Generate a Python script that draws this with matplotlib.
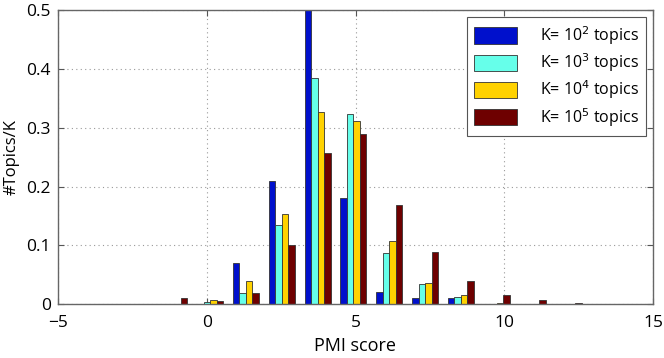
import matplotlib
matplotlib.use('Agg')
import matplotlib.pyplot as plt
import numpy as np

plt.rcParams['font.family'] = ['Open Sans', 'DejaVu Sans']

# bin centres of the PMI histogram
centers = [-1.1, 0.11, 1.315, 2.52, 3.725, 4.93, 6.135, 7.34, 8.545, 9.75, 10.955, 12.16, 13.365]

k2 = [0.0, 0.001, 0.070, 0.210, 0.510, 0.181, 0.021, 0.011, 0.010, 0.0, 0.0, 0.0, 0.0]
k3 = [0.001, 0.004, 0.020, 0.134, 0.385, 0.324, 0.088, 0.035, 0.012, 0.0, 0.0, 0.0, 0.0]
k4 = [0.001, 0.007, 0.040, 0.153, 0.327, 0.311, 0.108, 0.037, 0.015, 0.003, 0.001, 0.0, 0.0]
k5 = [0.010, 0.006, 0.020, 0.100, 0.257, 0.290, 0.168, 0.089, 0.039, 0.016, 0.007, 0.003, 0.001]

series = [k2, k3, k4, k5]
labels = ['K= 10$^2$ topics', 'K= 10$^3$ topics', 'K= 10$^4$ topics', 'K= 10$^5$ topics']
colors = ['#0010CC', '#66FFEA', '#FFD200', '#6E0000']

fig = plt.figure(figsize=(6.64, 3.58), dpi=100)
ax = fig.add_axes([58 / 664, 1 - 304.3 / 358, (653 - 58) / 664, (304.3 - 10) / 358])

x = np.array(centers)
w = 0.219
for i, (vals, lab, col) in enumerate(zip(series, labels, colors)):
    ax.bar(x + (i - 1.5) * w, vals, width=w, color=col, edgecolor='#333333',
           linewidth=0.6, label=lab)

ax.set_xlim(-5, 15)
ax.set_ylim(0, 0.5)
ax.set_xticks([-5, 0, 5, 10, 15])
ax.set_xticklabels(['\u22125', '0', '5', '10', '15'])
ax.set_yticks([0, 0.1, 0.2, 0.3, 0.4, 0.5])
ax.set_yticklabels(['0', '0.1', '0.2', '0.3', '0.4', '0.5'])
ax.tick_params(direction='in', top=True, right=True, length=4, labelsize=12.5,
               color='#555555')
ax.tick_params(axis='x', pad=8)
ax.tick_params(axis='y', pad=5)
ax.grid(True, linestyle=(0, (1, 3)), color='#999999', linewidth=0.8)
ax.set_axisbelow(True)
for s in ax.spines.values():
    s.set_color('#666666')
    s.set_linewidth(1.0)

ax.set_xlabel('PMI score', fontsize=13, labelpad=4)
ax.set_ylabel('#Topics/K', fontsize=12, labelpad=5)

leg = ax.legend(loc='upper right', fontsize=11.5, handlelength=2.7, handleheight=1.2,
                labelspacing=0.28, fancybox=False, framealpha=1, edgecolor='#555555',
                borderaxespad=0.45, handletextpad=1.4, borderpad=0.45)
leg.get_frame().set_linewidth(0.8)

fig.savefig('out.png', dpi=100)
